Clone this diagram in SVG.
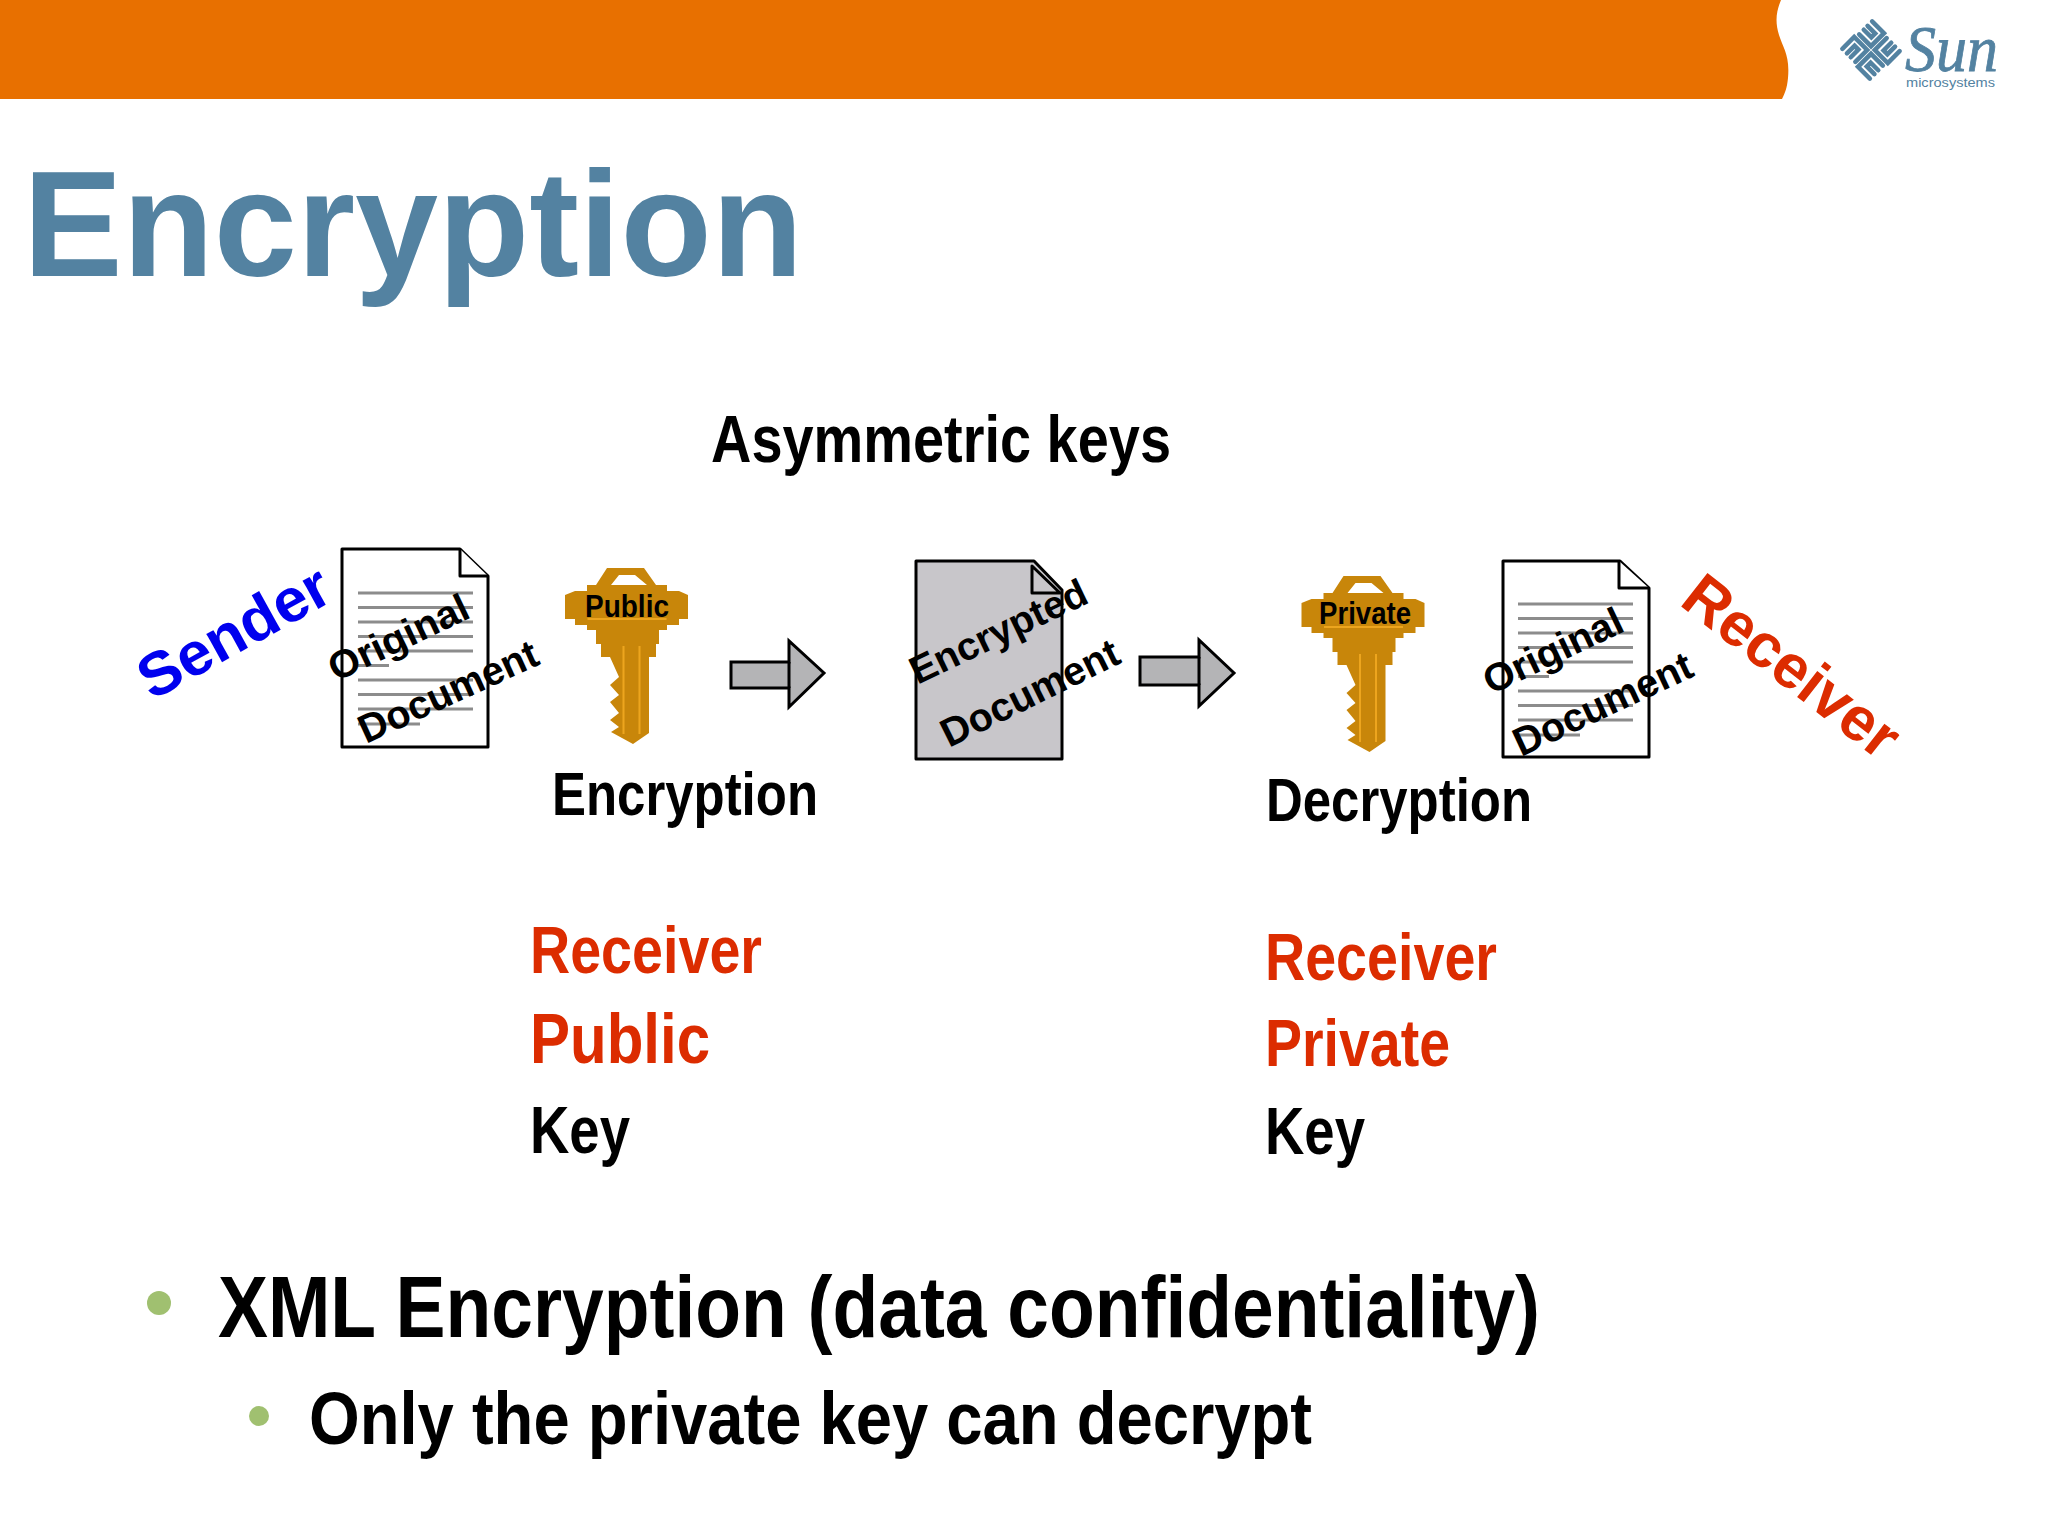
<svg xmlns="http://www.w3.org/2000/svg" xmlns:xlink="http://www.w3.org/1999/xlink" width="2048" height="1536" viewBox="0 0 2048 1536">
<style>
text{font-family:"Liberation Sans",Arial,sans-serif}
.n{font-family:"Liberation Sans Narrow","Liberation Sans",Arial,sans-serif;font-weight:700}
.b{font-weight:700}
.k{fill:#000}
.r{fill:#dc2c00}
.doc{fill:#fff;stroke:#000;stroke-width:3;stroke-linejoin:round}
.ln{stroke:#8c8c8c;stroke-width:3}
.ar{fill:#b4b4b6;stroke:#000;stroke-width:3;stroke-linejoin:miter}
</style>
<defs>
<g id="keyShape">
<path fill="#c8860a" fill-rule="evenodd" d="M-19.500 0H17.500L29.500 17H40.500V23H52.500L61.500 27V51H52.500V57H40.500V62H32.500V76H29.500V89H22.500V165L6.500 176L-15.500 164L-7.500 159L-16.500 152L-7.500 145L-16.500 134L-7.500 127L-16.500 117L-7.500 109L-16.500 89H-25.500V76H-30.500V62H-39.500V57H-51.500V51H-61.500V27L-51.500 23H-39.500V17H-30.500ZM-7.500 7L-15.500 17H20.500L8.500 7Z"/>
<path fill="none" stroke="#eda51e" stroke-width="2" d="M-3 78V166M13 78V166M-39 51H40"/>
</g>
<g id="lines">
<path class="ln" d="M0 0H115M0 14.500H115M0 29H115M0 43.500H115M0 58H115M0 72.500H31M0 87H115M0 101.500H115M0 116H115M0 131H62"/>
</g>
<g id="logoQuad" fill="none" stroke="#5382a1" stroke-width="4.200" stroke-linecap="round">
<path d="M-18 -19.500H-2.500V-2.500H-18M-18 -13.500H-8V-8.500H-18"/>
</g>
</defs>

<g id="banner"><path fill="#e87000" d="M0 0H1781C1776 12 1775 22 1779 35C1783 48 1790 55 1788 78C1787 88 1785 93 1782 99H0Z"/></g>

<g id="logo">
<g transform="translate(1871 50) rotate(45) scale(1.080)">
<use xlink:href="#logoQuad" href="#logoQuad"/>
<use xlink:href="#logoQuad" href="#logoQuad" transform="rotate(90)"/>
<use xlink:href="#logoQuad" href="#logoQuad" transform="rotate(180)"/>
<use xlink:href="#logoQuad" href="#logoQuad" transform="rotate(270)"/>
</g>
<text x="1905" y="71" font-size="66" font-style="italic" fill="#5382a1" stroke="#5382a1" stroke-width="0.800" textLength="93" lengthAdjust="spacingAndGlyphs" style="font-family:'Liberation Serif',serif">Sun</text>
<text x="1906" y="87" font-size="13" fill="#5382a1" textLength="89" lengthAdjust="spacingAndGlyphs">microsystems</text>
</g>

<g id="title"><text x="23" y="276" font-size="150" class="b" fill="#5382a1" textLength="780" lengthAdjust="spacingAndGlyphs">Encryption</text></g>
<g id="heading"><text x="711" y="462" font-size="66" class="n k" textLength="460" lengthAdjust="spacingAndGlyphs">Asymmetric keys</text></g>

<g id="sender"><text transform="translate(152 701) rotate(-29)" font-size="61" class="b" fill="#0000ee" textLength="210" lengthAdjust="spacingAndGlyphs">Sender</text></g>

<g id="doc-original-1">
<path class="doc" d="M342 549H460L488 576V747H342Z"/>
<path class="doc" fill="none" d="M460 549V576H488"/>
<use xlink:href="#lines" href="#lines" x="358" y="593"/>
<text transform="translate(336 682) rotate(-25.500)" font-size="39" class="b k" textLength="151" lengthAdjust="spacingAndGlyphs">Original</text>
<text transform="translate(366 744) rotate(-24.600)" font-size="40" class="b k" textLength="193" lengthAdjust="spacingAndGlyphs">Document</text>
</g>

<g id="key-public">
<use xlink:href="#keyShape" href="#keyShape" x="626.500" y="568"/>
<text x="585" y="617" font-size="32" class="n k" textLength="84" lengthAdjust="spacingAndGlyphs">Public</text>
</g>
<g id="label-encryption"><text x="552" y="815" font-size="62" class="n k" textLength="266" lengthAdjust="spacingAndGlyphs">Encryption</text></g>

<g id="connectors">
<path class="ar" d="M731 662H789V641L824 673L789 707V688H731Z"/>
<path class="ar" fill="none" d="M789 662V688"/>
<path class="ar" d="M1140 657H1199V640L1234 673L1199 706V685H1140Z"/>
<path class="ar" fill="none" d="M1199 657V685"/>
</g>

<g id="doc-encrypted">
<path class="doc" style="fill:#c8c6ca" d="M916 561H1034L1062 590V759H916Z"/>
<path class="doc" style="fill:#c8c6ca" d="M1032 566V593H1060Z"/>
<text transform="translate(917.500 685) rotate(-25.600)" font-size="39" class="b k" textLength="192" lengthAdjust="spacingAndGlyphs">Encrypted</text>
<text transform="translate(949 748) rotate(-26.300)" font-size="40" class="b k" textLength="194" lengthAdjust="spacingAndGlyphs">Document</text>
</g>

<g id="key-private">
<use xlink:href="#keyShape" href="#keyShape" x="1363" y="576"/>
<text x="1319" y="624" font-size="32" class="n k" textLength="92" lengthAdjust="spacingAndGlyphs">Private</text>
</g>
<g id="label-decryption"><text x="1266" y="821" font-size="62" class="n k" textLength="266" lengthAdjust="spacingAndGlyphs">Decryption</text></g>

<g id="doc-original-2">
<path class="doc" d="M1503 561H1620L1649 588V757H1503Z"/>
<path class="doc" fill="none" d="M1619 561V588H1649"/>
<use xlink:href="#lines" href="#lines" x="1518" y="604"/>
<text transform="translate(1491 695) rotate(-25.500)" font-size="39" class="b k" textLength="150" lengthAdjust="spacingAndGlyphs">Original</text>
<text transform="translate(1521 757) rotate(-25)" font-size="40" class="b k" textLength="193" lengthAdjust="spacingAndGlyphs">Document</text>
</g>

<g id="receiver"><text transform="translate(1678 604) rotate(38)" font-size="62" class="b r" textLength="256" lengthAdjust="spacingAndGlyphs">Receiver</text></g>

<g id="receiver-public-key">
<text x="530" y="973" font-size="66" class="n r" textLength="232" lengthAdjust="spacingAndGlyphs">Receiver</text>
<text x="530" y="1063" font-size="70" class="n r" textLength="180" lengthAdjust="spacingAndGlyphs">Public</text>
<text x="530" y="1153" font-size="66" class="n k" textLength="100" lengthAdjust="spacingAndGlyphs">Key</text>
</g>
<g id="receiver-private-key">
<text x="1265" y="980" font-size="66" class="n r" textLength="232" lengthAdjust="spacingAndGlyphs">Receiver</text>
<text x="1265" y="1066" font-size="66" class="n r" textLength="185" lengthAdjust="spacingAndGlyphs">Private</text>
<text x="1265" y="1154" font-size="66" class="n k" textLength="100" lengthAdjust="spacingAndGlyphs">Key</text>
</g>

<g id="bullets">
<circle cx="159" cy="1303" r="12" fill="#a0c070"/>
<text x="218" y="1337" font-size="88" class="n k" textLength="1322" lengthAdjust="spacingAndGlyphs">XML Encryption (data confidentiality)</text>
<circle cx="259" cy="1416" r="10" fill="#a0c070"/>
<text x="309" y="1444" font-size="74" class="n k" textLength="1003" lengthAdjust="spacingAndGlyphs">Only the private key can decrypt</text>
</g>
</svg>
